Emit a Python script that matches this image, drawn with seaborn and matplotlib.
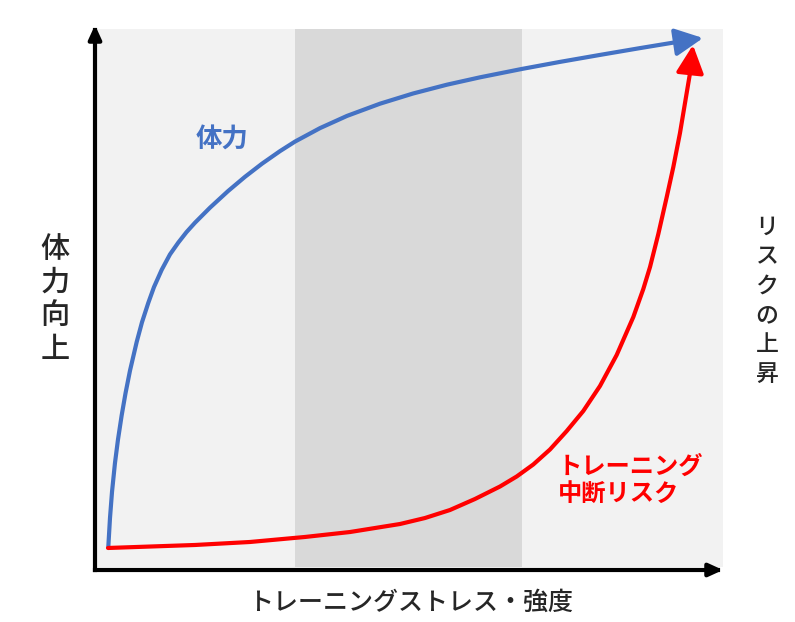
import matplotlib
matplotlib.use("Agg")
import matplotlib.pyplot as plt
import seaborn as sns
import pandas as pd

sns.set_theme(style="white")
plt.rcParams["font.family"] = ["Noto Sans CJK JP", "DejaVu Sans"]

# Training stress / intensity (0-100) against fitness gain and risk of interruption
fitness_x = [2.12, 2.39, 2.71, 3.18, 3.66, 4.25, 4.86, 5.57, 6.64, 7.48, 8.49, 9.39,
             10.62, 11.94, 13.26, 14.57, 15.92, 18.31, 21.18, 23.89, 26.59, 29.46,
             31.85, 35.83, 40.13, 45.38, 50.64, 56.05, 61.31, 67.99, 74.04, 80.41,
             86.78, 93.63]
fitness_y = [4.28, 9.58, 14.35, 19.63, 23.93, 28.40, 32.44, 36.57, 41.85, 45.45,
             49.03, 51.91, 55.08, 57.91, 60.07, 62.00, 63.72, 66.48, 69.52, 72.15,
             74.55, 76.86, 78.61, 81.08, 83.32, 85.56, 87.43, 89.05, 90.40, 91.94,
             93.23, 94.51, 95.76, 97.06]
fitness_tip = (96.82, 97.61)

risk_x = [2.07, 15.92, 24.68, 33.44, 40.61, 48.57, 52.55, 56.53, 60.51, 64.49,
          67.15, 69.79, 72.45, 75.11, 77.75, 80.41, 83.07, 85.72, 87.31, 88.38,
          89.70, 91.04, 92.09, 93.15, 93.95, 94.75]
risk_y = [4.04, 4.59, 5.14, 6.06, 6.97, 8.44, 9.54, 11.01, 13.03, 15.32,
          17.16, 19.36, 22.11, 25.49, 29.17, 33.76, 39.45, 46.42, 51.56, 55.60,
          61.65, 68.44, 73.94, 80.18, 85.69, 91.19]
risk_tip = (95.22, 96.33)

# Background panel and the optimal-intensity zone
panel_x = (0.3, 100.0)
panel_y = (0.6, 99.3)
zone_x = (31.8, 68.0)

BLUE = "#4472C4"
RED = "#FF0000"

fig = plt.figure(figsize=(7.95, 6.22), dpi=100)
ax = fig.add_axes([95 / 795, 52 / 622, 628 / 795, 545 / 622])
ax.set_xlim(0, 100)
ax.set_ylim(0, 100)

ax.fill_between(panel_x, panel_y[0], panel_y[1], color="#F2F2F2", lw=0, zorder=0)
ax.fill_between(zone_x, panel_y[0], panel_y[1], color="#D9D9D9", lw=0, zorder=1)

fit_df = pd.DataFrame({"x": fitness_x, "y": fitness_y})
risk_df = pd.DataFrame({"x": risk_x, "y": risk_y})
sns.lineplot(data=fit_df, x="x", y="y", sort=False, estimator=None, ax=ax,
             color=BLUE, lw=3, zorder=3)
sns.lineplot(data=risk_df, x="x", y="y", sort=False, estimator=None, ax=ax,
             color=RED, lw=3, zorder=4)
for line in ax.lines:
    line.set_solid_joinstyle("round")
    line.set_solid_capstyle("round")
ax.set_axis_off()

head = "-|>,head_length=0.85,head_width=0.42"
ax.annotate("", xy=fitness_tip, xytext=(fitness_x[-1], fitness_y[-1]),
            arrowprops=dict(arrowstyle=head, color=BLUE, lw=3, mutation_scale=20,
                            shrinkA=0, shrinkB=0), zorder=3)
ax.annotate("", xy=risk_tip, xytext=(risk_x[-1], risk_y[-1]),
            arrowprops=dict(arrowstyle=head, color=RED, lw=3, mutation_scale=20,
                            shrinkA=0, shrinkB=0), zorder=4)

# Axis arrows
axis_head = "-|>,head_length=0.7,head_width=0.32"
for tip in [(0, 1), (1, 0)]:
    ax.annotate("", xy=tip, xytext=(0, 0), xycoords="axes fraction",
                textcoords="axes fraction",
                arrowprops=dict(arrowstyle=axis_head, color="black", lw=3,
                                mutation_scale=12, shrinkA=0, shrinkB=0,
                                capstyle="projecting"),
                zorder=6)

ax.text(20.2, 78.9, "体力", color=BLUE, fontsize=19, fontweight="bold",
        ha="center", va="center")
ax.text(73.7, 16.5, "トレーニング\n中断リスク", color=RED, fontsize=17.5,
        fontweight="bold", ha="left", va="center", linespacing=1.15)

ax.text(-6.4, 49.7, "\n".join("体力向上"), fontsize=21, fontweight="medium",
        ha="center", va="center", linespacing=1.1, clip_on=False)
ax.text(107, 49.4, "\n".join("リスクの上昇"), fontsize=16.5, fontweight="medium",
        ha="center", va="center", linespacing=1.35, clip_on=False)
ax.text(50.3, -6.1, "トレーニングストレス・強度", fontsize=18, fontweight="medium",
        ha="center", va="center", clip_on=False)

fig.savefig("out.png", dpi=100, facecolor="white")
